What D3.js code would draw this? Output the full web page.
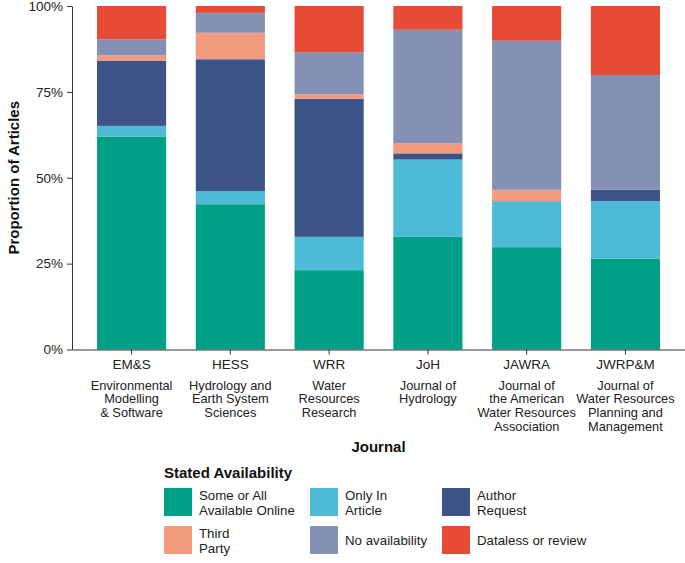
<!DOCTYPE html>
<html>
<head>
<meta charset="utf-8">
<script src="https://cdn.jsdelivr.net/npm/d3@7"></script>
<style>
  body { margin: 0; background: #fff; }
  text { font-family: "Liberation Sans", Arial, sans-serif; }
</style>
</head>
<body>
<div id="chart"></div>
<script>
// journals on the x axis
const journals = ["EM&S", "HESS", "WRR", "JoH", "JAWRA", "JWRP&M"];
const fullNames = [
  ["Environmental", "Modelling", "& Software"],
  ["Hydrology and", "Earth System", "Sciences"],
  ["Water", "Resources", "Research"],
  ["Journal of", "Hydrology"],
  ["Journal of", "the American", "Water Resources", "Association"],
  ["Journal of", "Water Resources", "Planning and", "Management"]
];

// stated availability (stack order, bottom to top)
const categories = ["online", "article", "author", "third", "none", "dataless"];
const legendLabels = [
  ["Some or All", "Available Online"],
  ["Only In", "Article"],
  ["Author", "Request"],
  ["Third", "Party"],
  ["No availability"],
  ["Dataless or review"]
];
const colors = ["#00A087", "#4DBBD5", "#3C5488", "#F39B7F", "#8491B4", "#E64B35"];

// proportions per journal
const online   = [0.620, 0.423, 0.231, 0.328, 0.298, 0.264];
const article  = [0.031, 0.038, 0.097, 0.225, 0.134, 0.168];
const author   = [0.190, 0.384, 0.402, 0.018, 0.000, 0.033];
const third    = [0.015, 0.077, 0.013, 0.029, 0.033, 0.000];
const none     = [0.047, 0.058, 0.122, 0.331, 0.434, 0.334];
const dataless = [0.097, 0.020, 0.135, 0.069, 0.101, 0.201];

const yTicks = [0, 0.25, 0.5, 0.75, 1];

const series = { online, article, author, third, none, dataless };
const rows = journals.map((j, i) => {
  const r = { journal: j };
  categories.forEach(c => r[c] = series[c][i]);
  return r;
});

const width = 685, height = 563;
const margin = { left: 72, top: 6, right: 0, bottom: 213.5 };

const svg = d3.select('#chart')
  .append('svg')
  .attr('width', width)
  .attr('height', height);

const x = d3.scaleBand()
  .domain(journals)
  .range([margin.left, width - margin.right])
  .paddingInner(0.3)
  .paddingOuter(0.253);

const y = d3.scaleLinear()
  .domain([0, 1])
  .range([height - margin.bottom, margin.top]);

const color = d3.scaleOrdinal().domain(categories).range(colors);

const stacked = d3.stack().keys(categories)(rows);

svg.append('g')
  .selectAll('g')
  .data(stacked)
  .enter()
  .append('g')
  .attr('fill', d => color(d.key))
  .selectAll('rect')
  .data(d => d)
  .enter()
  .append('rect')
  .attr('x', d => x(d.data.journal))
  .attr('y', d => y(d[1]))
  .attr('width', x.bandwidth())
  .attr('height', d => y(d[0]) - y(d[1]));

// y axis
const yAxis = svg.append('g')
  .attr('transform', `translate(${margin.left},0)`)
  .call(d3.axisLeft(y).tickValues(yTicks).tickFormat(d3.format('.0%')).tickSize(5).tickPadding(4).tickSizeOuter(0));
yAxis.select('.domain').attr('stroke', '#333');
yAxis.selectAll('.tick line').attr('stroke', '#333');
yAxis.selectAll('.tick text')
  .attr('fill', '#222')
  .style('font-size', '13.5px')
  .style('font-family', '"Liberation Sans", Arial, sans-serif');

// x axis
const xAxis = svg.append('g')
  .attr('transform', `translate(0,${y(0)})`)
  .call(d3.axisBottom(x).tickSize(5).tickSizeOuter(0).tickPadding(5));
xAxis.select('.domain').attr('stroke', '#333');
xAxis.selectAll('.tick line').attr('stroke', '#333');
xAxis.selectAll('.tick text')
  .attr('fill', '#222')
  .style('font-size', '13.5px')
  .style('font-family', '"Liberation Sans", Arial, sans-serif');

// full journal names under ticks
xAxis.selectAll('.tick')
  .append('text')
  .attr('fill', '#222')
  .attr('text-anchor', 'middle')
  .style('font-size', '12.8px')
  .style('font-family', '"Liberation Sans", Arial, sans-serif')
  .selectAll('tspan')
  .data((d, i) => fullNames[i])
  .enter()
  .append('tspan')
  .attr('x', 0)
  .attr('y', (d, i) => 40 + i * 13.8)
  .text(d => d);

// axis titles
svg.append('text')
  .attr('transform', `translate(19,${y(0.5)}) rotate(-90)`)
  .attr('text-anchor', 'middle')
  .style('font-size', '15px')
  .style('font-weight', 'bold')
  .attr('fill', '#111')
  .text('Proportion of Articles');

svg.append('text')
  .attr('x', (margin.left + width - margin.right) / 2)
  .attr('y', 452)
  .attr('text-anchor', 'middle')
  .style('font-size', '15px')
  .style('font-weight', 'bold')
  .attr('fill', '#111')
  .text('Journal');

// legend
const legend = svg.append('g').attr('transform', 'translate(164,0)');
legend.append('text')
  .attr('x', 0)
  .attr('y', 478)
  .style('font-size', '15px')
  .style('font-weight', 'bold')
  .attr('fill', '#111')
  .text('Stated Availability');

const colX = [0, 146, 278];
const rowY = [488, 526];
const item = legend.selectAll('.item')
  .data(categories)
  .enter()
  .append('g')
  .attr('class', 'item')
  .attr('transform', (d, i) => `translate(${colX[i % 3]},${rowY[Math.floor(i / 3)]})`);

item.append('rect')
  .attr('width', 28)
  .attr('height', 28)
  .attr('fill', d => color(d));

item.append('text')
  .attr('fill', '#222')
  .style('font-size', '13.3px')
  .selectAll('tspan')
  .data((d, i) => legendLabels[i].map(t => ({ t, n: legendLabels[i].length })))
  .enter()
  .append('tspan')
  .attr('x', 35)
  .attr('y', (d, i) => d.n === 1 ? 19 : 12 + i * 14.5)
  .text(d => d.t);
</script>
</body>
</html>
